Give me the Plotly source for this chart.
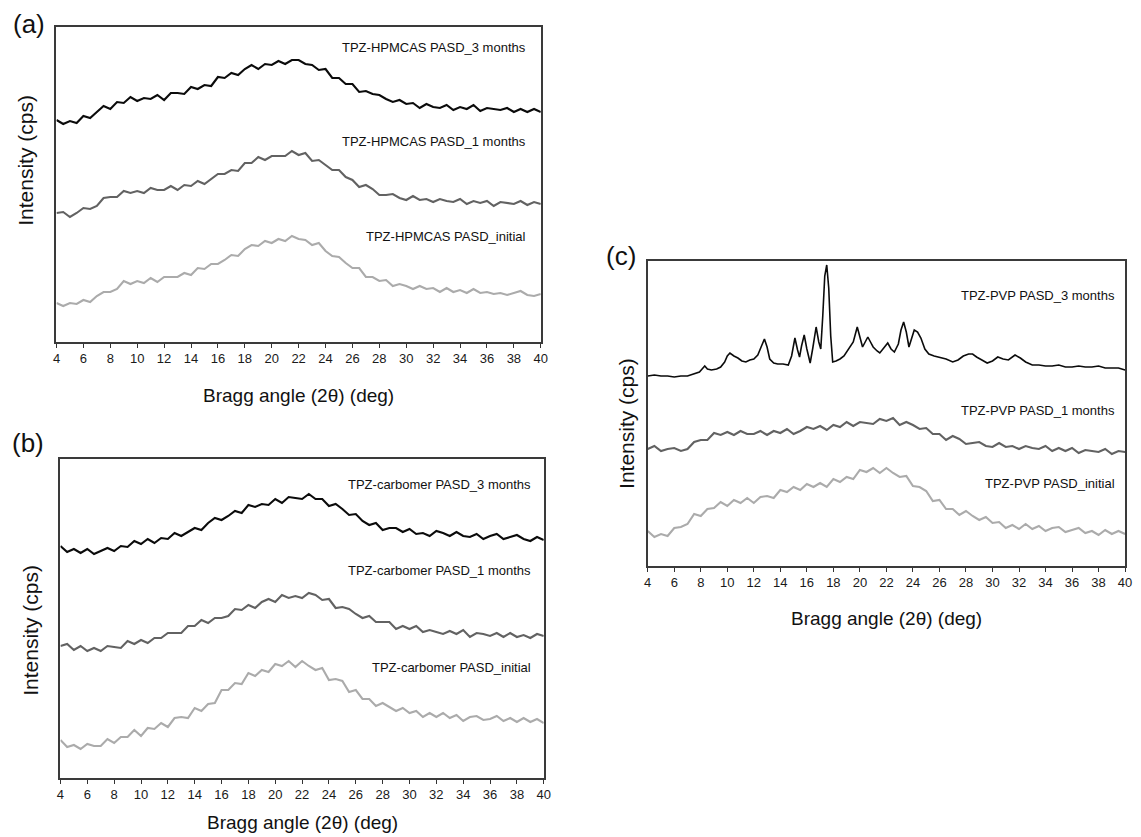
import plotly.graph_objects as go

# ---------------- data (intensity, arbitrary units) ----------------
two_theta = [round(4 + 0.5 * i, 1) for i in range(73)]  # 4 .. 40 deg, 0.5 deg step

hpmcas_3m = [222, 218, 221, 219, 226, 224, 230, 236, 233, 240,
             239, 245, 241, 244, 243, 247, 242, 249, 249, 248,
             255, 253, 257, 256, 265, 264, 269, 267, 273, 277,
             273, 278, 277, 281, 278, 282, 282, 278, 277, 272,
             273, 264, 264, 258, 258, 250, 251, 248, 247, 243,
             240, 242, 238, 239, 234, 238, 235, 234, 237, 232,
             235, 233, 237, 231, 234, 233, 232, 234, 230, 233,
             230, 233, 230]
hpmcas_1m = [129, 130, 125, 129, 134, 133, 136, 144, 145, 145,
             151, 149, 151, 149, 154, 152, 152, 156, 152, 157,
             156, 161, 158, 163, 168, 168, 172, 171, 179, 179,
             185, 182, 186, 186, 186, 191, 187, 189, 181, 182,
             177, 172, 172, 165, 162, 155, 157, 153, 147, 147,
             148, 144, 142, 146, 142, 143, 140, 143, 141, 140,
             143, 138, 141, 139, 141, 136, 140, 139, 138, 141,
             137, 140, 138]
hpmcas_init = [39, 36, 39, 38, 42, 40, 46, 50, 50, 53,
               61, 58, 61, 59, 64, 60, 65, 65, 65, 69,
               67, 74, 73, 78, 78, 82, 87, 86, 93, 97,
               96, 101, 99, 103, 101, 106, 103, 102, 97, 99,
               91, 86, 85, 79, 74, 74, 65, 65, 61, 62,
               56, 58, 56, 53, 56, 53, 54, 50, 54, 50,
               52, 49, 53, 49, 50, 48, 49, 47, 49, 51,
               47, 46, 48]

carbomer_3m = [232, 226, 229, 225, 229, 224, 227, 230, 227, 232,
               231, 237, 234, 239, 235, 240, 239, 245, 242, 246,
               250, 248, 255, 260, 258, 262, 267, 265, 273, 271,
               274, 273, 279, 275, 281, 280, 279, 284, 279, 279,
               272, 274, 269, 263, 264, 257, 253, 255, 248, 250,
               250, 246, 249, 244, 245, 242, 247, 245, 242, 246,
               242, 241, 244, 239, 242, 244, 239, 241, 243, 239,
               237, 241, 238]
carbomer_1m = [132, 134, 128, 132, 127, 130, 127, 132, 131, 130,
               137, 134, 138, 135, 140, 140, 145, 145, 145, 152,
               152, 158, 155, 160, 160, 162, 169, 168, 173, 170,
               176, 179, 176, 183, 180, 182, 180, 185, 183, 178,
               179, 170, 171, 169, 164, 160, 162, 156, 156, 156,
               149, 152, 149, 152, 146, 148, 146, 144, 147, 144,
               148, 141, 145, 144, 142, 145, 141, 145, 141, 143,
               140, 144, 142]
carbomer_init = [38, 31, 33, 29, 34, 32, 32, 39, 35, 41,
                 41, 48, 42, 50, 49, 55, 51, 60, 61, 60,
                 70, 67, 74, 75, 88, 88, 95, 94, 105, 102,
                 108, 106, 114, 112, 117, 111, 117, 112, 108, 110,
                 98, 99, 97, 86, 88, 79, 79, 72, 75, 71,
                 67, 70, 65, 67, 61, 65, 61, 65, 60, 63,
                 57, 61, 62, 58, 59, 62, 57, 60, 56, 60,
                 56, 59, 55]

pvp_1m = [117, 120, 115, 117, 118, 115, 117, 124, 126, 126,
          133, 131, 134, 131, 135, 132, 132, 135, 131, 135,
          133, 137, 132, 135, 139, 137, 140, 136, 141, 139,
          144, 140, 144, 143, 142, 147, 145, 148, 141, 144,
          141, 137, 138, 132, 132, 126, 130, 127, 122, 123,
          124, 120, 119, 123, 119, 120, 117, 120, 118, 117,
          120, 115, 118, 115, 118, 113, 116, 115, 114, 117,
          112, 115, 114]
pvp_init = [35, 29, 32, 30, 38, 39, 42, 52, 50, 57,
            58, 64, 60, 66, 63, 68, 63, 69, 70, 68,
            76, 74, 79, 76, 82, 79, 83, 79, 87, 84,
            89, 87, 96, 94, 98, 93, 98, 93, 89, 90,
            80, 79, 75, 65, 66, 57, 57, 51, 55, 50,
            46, 49, 43, 44, 38, 41, 37, 42, 37, 40,
            35, 38, 39, 34, 36, 38, 33, 35, 31, 36,
            32, 35, 32]

pvp_3m_theta = [4, 4.5, 5, 5.5, 6, 6.5, 7, 7.5, 7.9, 8.1, 8.3, 8.5, 8.8, 9.2, 9.5, 9.8,
                10.0, 10.2, 10.5, 10.8, 11.1, 11.4, 11.7, 12.0, 12.3, 12.55, 12.8, 13.0,
                13.2, 13.5, 13.8, 14.2, 14.6, 14.85, 15.1, 15.3, 15.45, 15.6, 15.8, 16.0,
                16.25, 16.45, 16.7, 16.9, 17.05, 17.2, 17.35, 17.5, 17.65, 17.8, 17.95,
                18.2, 18.5, 18.8, 19.0, 19.2, 19.5, 19.8, 20.0, 20.2, 20.4, 20.6, 20.8,
                21.0, 21.3, 21.5, 21.8, 22.1, 22.35, 22.6, 22.9, 23.1, 23.3, 23.5, 23.7,
                23.9, 24.1, 24.35, 24.6, 24.9, 25.2, 25.6, 26.0, 26.5, 27.0, 27.4, 27.8,
                28.2, 28.5, 28.8, 29.2, 29.6, 30.0, 30.4, 30.8, 31.2, 31.7, 32.1, 32.5,
                33.0, 33.5, 34.0, 34.5, 35.0, 35.5, 36.0, 36.5, 37.0, 37.5, 38.0, 38.5,
                39.0, 39.5, 40.0]
pvp_3m = [190, 191, 190, 190, 189, 190, 190, 192, 194, 197, 200, 197, 196, 197, 199, 204,
          210, 213, 210, 208, 205, 204, 206, 207, 211, 219, 227, 219,
          207, 203, 202, 202, 201, 210, 228, 216, 209, 220, 231, 217,
          203, 218, 239, 224, 217, 250, 290, 301, 278, 230, 204,
          205, 207, 210, 214, 218, 224, 239, 230, 219, 224, 229, 224,
          219, 215, 213, 218, 223, 217, 214, 222, 236, 244, 234, 219,
          228, 236, 234, 228, 217, 212, 210, 209, 207, 204, 206, 210,
          212, 212, 209, 206, 203, 205, 209, 207, 206, 211, 208, 204,
          201, 201, 200, 200, 201, 199, 199, 200, 199, 199, 200, 198,
          198, 198, 196]

series_names = ["3 months", "1 months", "initial"]
series_colors = ["#0b0b0b", "#626262", "#ababab"]

# ---------------- layout (pixel geometry of the 1141 x 837 page) ----------------
W, H = 1141, 837
FONT = "Liberation Sans, Arial, Helvetica, sans-serif"

# box = left, right, top, bottom (px)
panels = {
    "a": dict(box=(53, 542, 27, 342), tag="(a)", tag_xy=(25, 24),
              xtitle_y=395, ytitle_xy=(22, 160), prefix="TPZ-HPMCAS PASD_",
              label_x=529, label_y=[47, 142, 236],
              curves=[(two_theta, hpmcas_3m), (two_theta, hpmcas_1m), (two_theta, hpmcas_init)]),
    "b": dict(box=(57, 545, 459, 778), tag="(b)", tag_xy=(24, 443),
              xtitle_y=822, ytitle_xy=(26, 630), prefix="TPZ-carbomer PASD_",
              label_x=534, label_y=[484, 570, 667],
              curves=[(two_theta, carbomer_3m), (two_theta, carbomer_1m), (two_theta, carbomer_init)]),
    "c": dict(box=(650, 1132, 261, 566), tag="(c)", tag_xy=(623, 256),
              xtitle_y=618, ytitle_xy=(628, 423), prefix="TPZ-PVP PASD_",
              label_x=1124, label_y=[295, 410, 483],
              curves=[(pvp_3m_theta, pvp_3m), (two_theta, pvp_1m), (two_theta, pvp_init)]),
}

fig = go.Figure()
annotations = []


def px(x):
    return x / W


def py(y):
    return 1 - y / H


for i, (key, p) in enumerate(panels.items()):
    n = "" if i == 0 else str(i + 1)
    l, r, t, b = p["box"]
    xa, ya = "xaxis" + n, "yaxis" + n
    for j, ((xs, ys), name, col) in enumerate(zip(p["curves"], series_names, series_colors)):
        lw = 1.6 if (key == "c" and j == 0) else 2.1
        fig.add_trace(go.Scatter(x=xs, y=ys, mode="lines", name=p["prefix"] + name,
                                 line=dict(color=col, width=lw),
                                 xaxis="x" + n, yaxis="y" + n, showlegend=False,
                                 hoverinfo="skip"))
    fig.update_layout(**{
        xa: dict(domain=[px(l), px(r)], range=[4, 40], anchor="y" + n,
                 tickmode="linear", tick0=4, dtick=2, ticks="outside", ticklen=4,
                 tickwidth=1.4, tickcolor="#333", showline=True, mirror=True,
                 linecolor="#3a3a3a", linewidth=1.6, showgrid=False, zeroline=False,
                 tickfont=dict(family=FONT, size=13, color="#1a1a1a")),
        ya: dict(domain=[py(b), py(t)], range=[0, b - t], anchor="x" + n,
                 showticklabels=False, ticks="", showline=True, mirror=True,
                 linecolor="#3a3a3a", linewidth=1.6, showgrid=False, zeroline=False),
    })
    # series labels
    for name, ly in zip(series_names, p["label_y"]):
        annotations.append(dict(text=p["prefix"] + name, x=px(p["label_x"]), y=py(ly),
                                xref="paper", yref="paper", xanchor="right", yanchor="middle",
                                showarrow=False, font=dict(family=FONT, size=13, color="#111")))
    # panel tag
    annotations.append(dict(text=p["tag"], x=px(p["tag_xy"][0]), y=py(p["tag_xy"][1]),
                            xref="paper", yref="paper", xanchor="center", yanchor="middle",
                            showarrow=False, font=dict(family=FONT, size=26, color="#111")))
    # axis titles
    annotations.append(dict(text="Bragg angle (2θ) (deg)", x=px((l + r) / 2), y=py(p["xtitle_y"]),
                            xref="paper", yref="paper", xanchor="center", yanchor="middle",
                            showarrow=False, font=dict(family=FONT, size=19, color="#111")))
    annotations.append(dict(text="Intensity (cps)", x=px(p["ytitle_xy"][0]), y=py(p["ytitle_xy"][1]),
                            xref="paper", yref="paper", xanchor="center", yanchor="middle",
                            textangle=-90, showarrow=False,
                            font=dict(family=FONT, size=21, color="#111")))

fig.update_layout(width=W, height=H, margin=dict(l=0, r=0, t=0, b=0),
                  paper_bgcolor="white", plot_bgcolor="white",
                  annotations=annotations, showlegend=False)

fig.write_html("out.html", config={"displayModeBar": False},
               post_script="document.body.style.margin='0px';document.body.style.overflow='hidden';")
